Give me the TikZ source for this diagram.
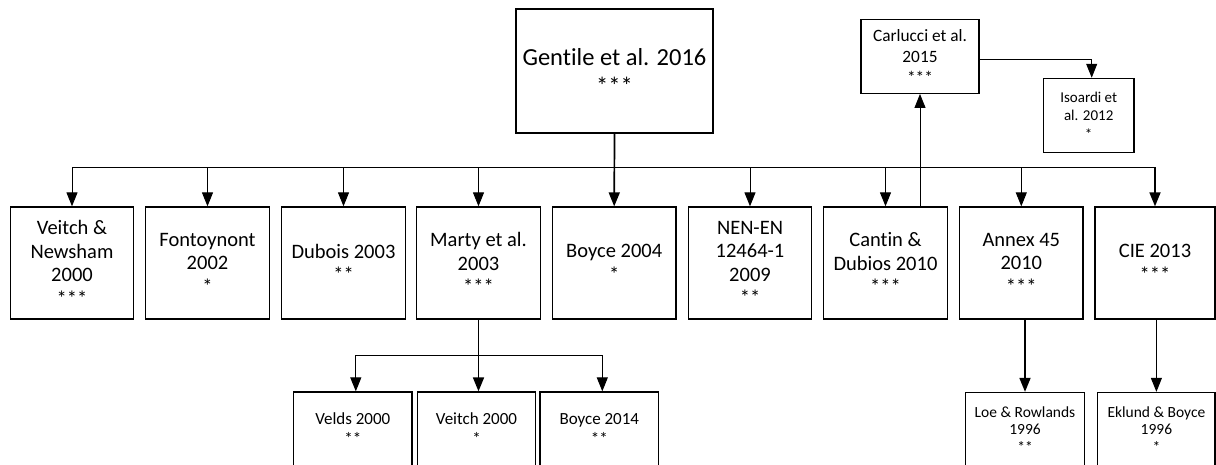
\documentclass[tikz,border=0pt]{standalone}
\usepackage{fontspec}
\setmainfont[Ligatures={NoCommon}]{Carlito}
\usetikzlibrary{arrows.meta}
\begin{document}
\begin{tikzpicture}[x=1pt,y=-1pt,
  boxbase/.style={draw, line width=1.3pt, inner sep=0pt, align=center},
  topbox/.style={boxbase, minimum width=197pt, minimum height=124pt, font=\fontsize{24.5}{29}\selectfont},
  box/.style={boxbase, minimum width=123.5pt, minimum height=112pt, font=\fontsize{20.5}{23.5}\selectfont},
  carlbox/.style={boxbase, minimum width=118pt, minimum height=74pt, font=\fontsize{17.3}{21}\selectfont},
  isobox/.style={boxbase, minimum width=90.7pt, minimum height=74pt, font=\fontsize{15}{18.5}\selectfont},
  lowbox/.style={boxbase, minimum width=118.5pt, minimum height=74pt, font=\fontsize{17}{20}\selectfont},
  lowboxs/.style={boxbase, minimum width=118pt, minimum height=74pt, font=\fontsize{15.5}{17.5}\selectfont},
  conn/.style={line width=1pt},
  arr/.style={line width=1pt, -{Triangle[length=14pt,width=11pt]}},
  arrthick/.style={line width=1.7pt, -{Triangle[length=14pt,width=11pt]}}
]
\path[use as bounding box, fill=white] (0,0) rectangle (1216,464);
\clip (0,0) rectangle (1216,464);

\node[topbox] (gen) at (614.5,71) {Gentile et al. 2016\\***};

\node[box] (b1) at (72,263) {Veitch \&\\Newsham\\2000\\***};
\node[box] (b2) at (207.5,263) {Fontoynont\\2002\\*};
\node[box] (b3) at (343.5,263) {Dubois 2003\\**};
\node[box] (b4) at (478.5,263) {Marty et al.\\2003\\***};
\node[box] (b5) at (614.2,263) {Boyce 2004\\*};
\node[box] (b6) at (750,263) {NEN-EN\\12464-1\\2009\\**};
\node[box] (b7) at (885.5,263) {Cantin \&\\Dubios 2010\\***};
\node[box] (b8) at (1021.3,263) {Annex 45\\2010\\***};
\node[box, minimum width=120pt] (b9) at (1155,263) {CIE 2013\\***};

\node[carlbox] (carl) at (920,56.3) {Carlucci et al.\\2015\\***};
\node[isobox] (iso) at (1088.7,115.4) {Isoardi et\\al. 2012\\*};

\node[lowbox] (velds) at (352.8,429) {Velds 2000\\**};
\node[lowbox] (veitch) at (476.5,429) {Veitch 2000\\*};
\node[lowbox] (boyce) at (599.3,429) {Boyce 2014\\**};
\node[lowboxs, minimum width=118.6pt] (loe) at (1025,429.5) {Loe \& Rowlands\\1996\\**};
\node[lowboxs, minimum width=117.3pt] (ekl) at (1156.4,429.5) {Eklund \& Boyce\\1996\\*};

% main bus
\coordinate (bus) at (614.2,167.3);
\draw[conn] (b1.north |- bus) -- (b9.north |- bus);
\foreach \b in {b1,b2,b3,b4,b6,b7,b8}
  \draw[arr] (\b.north |- bus) -- (\b.north);
\draw[arrthick] (b9.north |- bus) -- (b9.north);
\draw[arrthick] (gen.south) -- (b5.north);

% Cantin -> Carlucci -> Isoardi
\draw[arr] (b7.north -| carl.south) -- (carl.south);
\draw[arr] ([yshift=-3pt]carl.east) -| ([xshift=3pt]iso.north);

% Marty branch
\coordinate (mb) at (478.5,355);
\draw[conn] ([xshift=3pt]velds.north |- mb) -- ([xshift=3pt]boyce.north |- mb);
\draw[arr] ([xshift=3pt]velds.north |- mb) -- ([xshift=3pt]velds.north);
\draw[arr] ([xshift=3pt]boyce.north |- mb) -- ([xshift=3pt]boyce.north);
\draw[arrthick] (b4.south) -- (b4.south |- veitch.north);

% Annex -> Loe, CIE -> Eklund
\draw[arrthick] (loe.north |- b8.south) -- (loe.north);
\draw[arr] (ekl.north |- b9.south) -- (ekl.north);
\end{tikzpicture}
\end{document}
